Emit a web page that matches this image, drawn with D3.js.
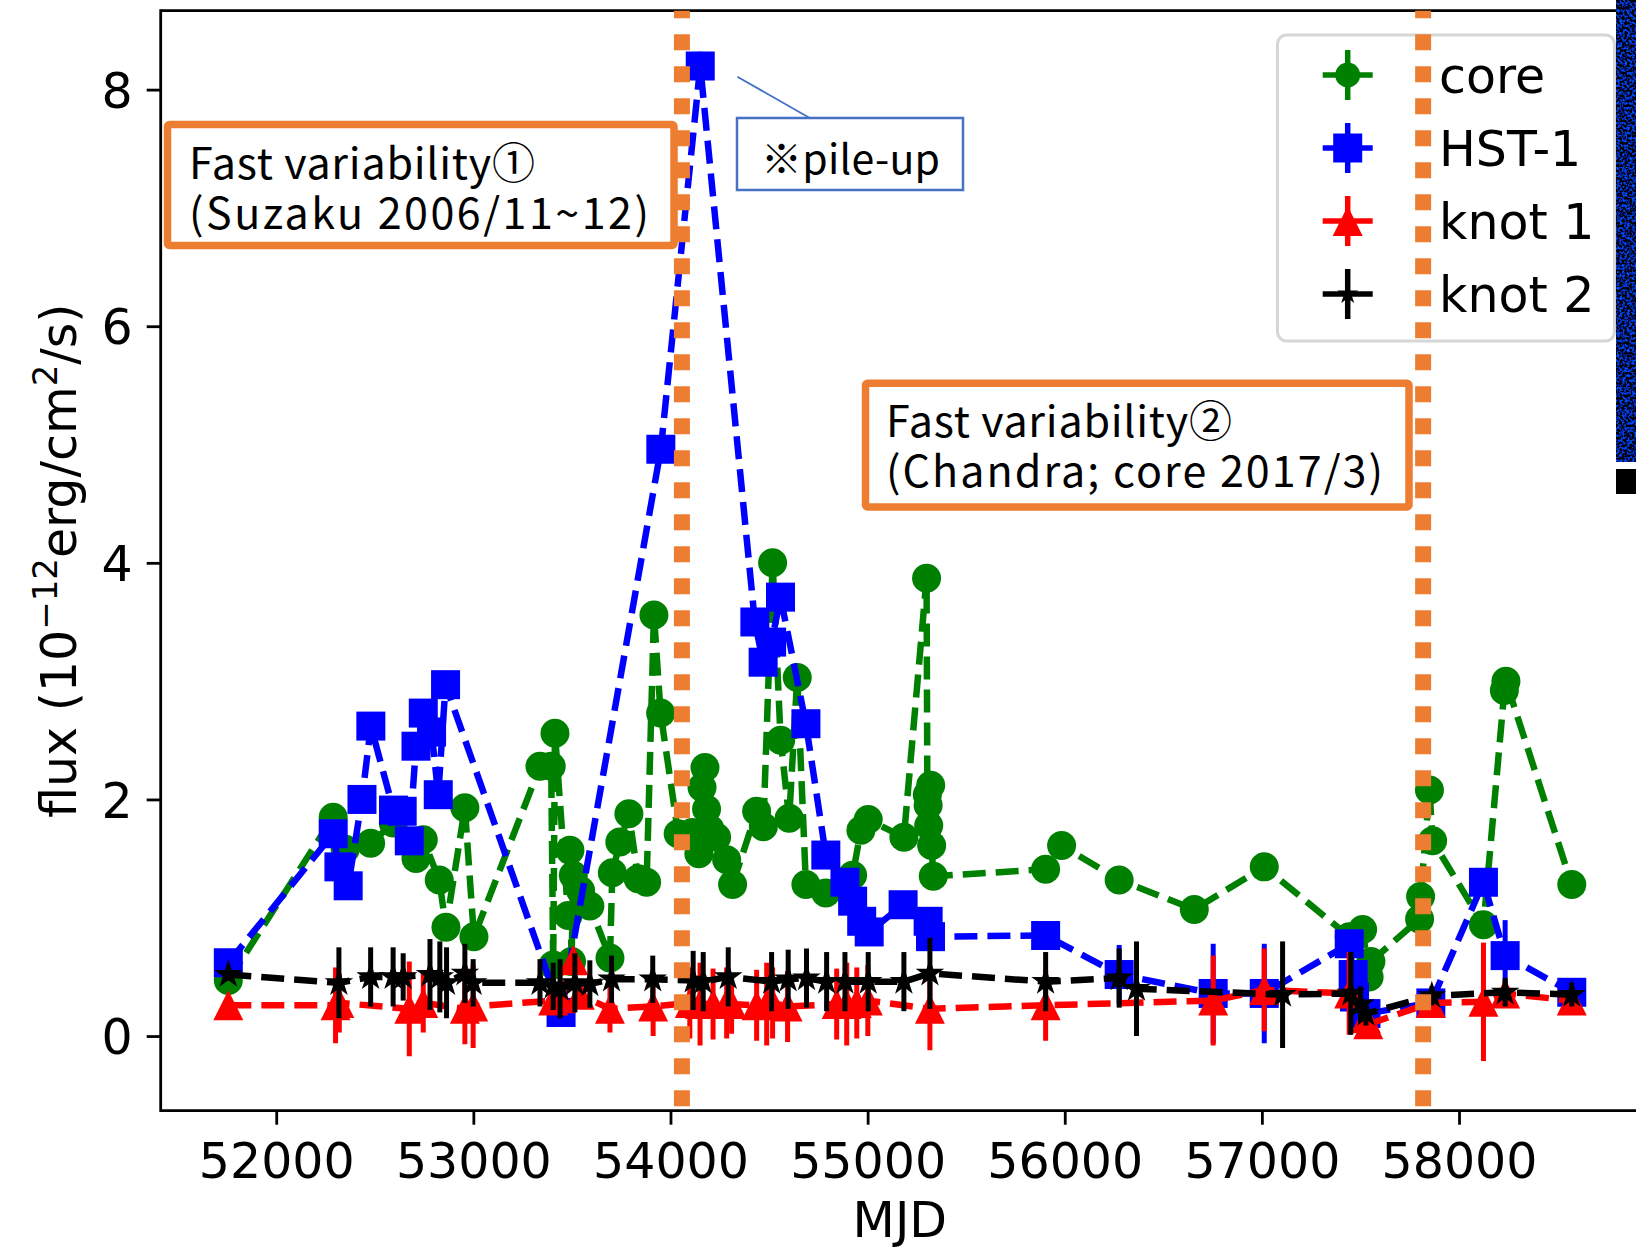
<!DOCTYPE html>
<html>
<head>
<meta charset="utf-8">
<script src="https://cdn.jsdelivr.net/npm/d3@7"></script>
<style>
  html, body { margin: 0; padding: 0; background: #ffffff; }
  svg { display: block; }
</style>
</head>
<body>
<svg id="chart" width="1636" height="1250"></svg>
<script>
// ---- light-curve data (MJD, flux in 1e-12 erg/cm^2/s, 1-sigma error) ----
const coreMJD  = [51757, 52289, 52350, 52479, 52594, 52709, 52746, 52827, 52861, 52957, 53003, 53338, 53395, 53405, 53414,
                  53481, 53490, 53498, 53507, 53544, 53591, 53693, 53705, 53743, 53789, 53836, 53879, 53916, 53950, 54039,
                  54110, 54144, 54160, 54175, 54183, 54200, 54234, 54285, 54315, 54437, 54471, 54518, 54559, 54602, 54643,
                  54687, 54788, 54924, 54966, 55003, 55184, 55299, 55303, 55307, 55310, 55320, 55325, 55333, 55903, 55984,
                  56276, 56657, 57012, 57443, 57511, 57544, 57553, 57800, 57805, 57850, 57866, 58124, 58230, 58238, 58572];
const coreFlux = [0.47, 1.85, 1.58, 1.63, 1.80, 1.50, 1.66, 1.32, 0.92, 1.93, 0.84, 2.28, 2.28, 0.60, 2.56,
                  1.02, 1.57, 0.63, 1.36, 1.23, 1.10, 0.66, 1.38, 1.64, 1.88, 1.33, 1.30, 3.56, 2.73, 1.71,
                  1.72, 1.54, 2.10, 2.27, 1.92, 1.75, 1.68, 1.49, 1.28, 1.90, 1.77, 4.00, 2.50, 1.84, 3.03,
                  1.28, 1.21, 1.36, 1.74, 1.83, 1.68, 3.87, 2.04, 1.95, 1.78, 2.12, 1.61, 1.35, 1.41, 1.61,
                  1.32, 1.07, 1.43, 0.84, 0.90, 0.50, 0.63, 0.99, 1.18, 2.08, 1.65, 0.94, 2.92, 3.00, 1.28];
const coreErr  = [0.06, 0.07, 0.06, 0.06, 0.06, 0.06, 0.06, 0.06, 0.06, 0.07, 0.06, 0.07, 0.07, 0.06, 0.08,
                  0.06, 0.06, 0.06, 0.06, 0.06, 0.06, 0.06, 0.06, 0.06, 0.07, 0.06, 0.06, 0.09, 0.08, 0.06,
                  0.06, 0.06, 0.07, 0.07, 0.06, 0.06, 0.06, 0.06, 0.06, 0.06, 0.06, 0.09, 0.07, 0.06, 0.08,
                  0.06, 0.06, 0.06, 0.06, 0.06, 0.06, 0.09, 0.07, 0.07, 0.06, 0.07, 0.06, 0.06, 0.06, 0.06,
                  0.06, 0.08, 0.06, 0.08, 0.08, 0.08, 0.08, 0.07, 0.07, 0.08, 0.07, 0.08, 0.09, 0.09, 0.07];

const hstMJD  = [51757, 52289, 52318, 52365, 52435, 52480, 52595, 52639, 52675, 52709, 52746, 52788, 52822, 52859,
                 53445, 53951, 54151, 54428, 54470, 54513, 54558, 54687, 54788, 54885, 54924, 54970, 55008, 55180,
                 55307, 55319, 55903, 56276, 56753, 57012, 57443, 57463, 57470, 57528, 57857, 58124, 58234, 58572];
const hstFlux = [0.62, 1.71, 1.43, 1.27, 2.00, 2.62, 1.91, 1.90, 1.65, 2.45, 2.73, 2.57, 2.04, 2.97,
                 0.20, 4.96, 8.20, 3.50, 3.16, 3.33, 3.71, 2.64, 1.53, 1.30, 1.14, 0.97, 0.88, 1.11,
                 0.97, 0.84, 0.85, 0.52, 0.36, 0.36, 0.78, 0.52, 0.33, 0.19, 0.28, 1.30, 0.68, 0.37];
const hstErr  = [0.05, 0.06, 0.06, 0.06, 0.07, 0.08, 0.07, 0.07, 0.07, 0.08, 0.08, 0.08, 0.07, 0.09,
                 0.08, 0.10, 0.12, 0.09, 0.09, 0.09, 0.10, 0.09, 0.08, 0.08, 0.08, 0.07, 0.07, 0.08,
                 0.10, 0.10, 0.12, 0.25, 0.42, 0.42, 0.12, 0.12, 0.15, 0.15, 0.10, 0.12, 0.30, 0.12];

const knot1MJD  = [51757, 52301, 52320, 52675, 52746, 52957, 52999, 53405, 53445, 53507, 53540, 53693, 53912,
                   54098, 54150, 54216, 54285, 54310, 54437, 54488, 54518, 54594, 54843, 54894, 54945, 55001,
                   55316, 55903, 56753, 57012, 57443, 57528, 57540, 57857, 58124, 58234, 58572];
const knot1Flux = [0.26, 0.26, 0.28, 0.23, 0.28, 0.23, 0.25, 0.30, 0.32, 0.64, 0.35, 0.23, 0.25,
                   0.28, 0.27, 0.27, 0.28, 0.27, 0.26, 0.27, 0.28, 0.25, 0.27, 0.27, 0.28, 0.30,
                   0.23, 0.26, 0.30, 0.39, 0.36, 0.15, 0.10, 0.28, 0.29, 0.36, 0.30];
const knot1Err  = [0.05, 0.32, 0.25, 0.40, 0.25, 0.30, 0.35, 0.12, 0.15, 0.10, 0.12, 0.20, 0.25,
                   0.30, 0.35, 0.30, 0.30, 0.25, 0.30, 0.35, 0.30, 0.30, 0.30, 0.35, 0.30, 0.30,
                   0.35, 0.30, 0.38, 0.35, 0.35, 0.10, 0.10, 0.05, 0.50, 0.10, 0.05];

const knot2MJD  = [51757, 52318, 52479, 52593, 52644, 52780, 52830, 52864, 52957, 52999, 53338, 53405, 53440,
                   53515, 53591, 53701, 53910, 54115, 54166, 54293, 54513, 54597, 54690, 54792, 54885, 55003,
                   55184, 55316, 55903, 56276, 56364, 57105, 57451, 57500, 57528, 57862, 58234, 58572];
const knot2Flux = [0.52, 0.45, 0.50, 0.50, 0.50, 0.52, 0.50, 0.45, 0.53, 0.45, 0.45, 0.42, 0.40,
                   0.45, 0.44, 0.48, 0.48, 0.47, 0.46, 0.50, 0.46, 0.48, 0.49, 0.46, 0.46, 0.46,
                   0.46, 0.53, 0.46, 0.49, 0.40, 0.35, 0.36, 0.27, 0.19, 0.34, 0.37, 0.35];
const knot2Err  = [0.05, 0.30, 0.25, 0.25, 0.20, 0.30, 0.30, 0.30, 0.25, 0.20, 0.20, 0.20, 0.25,
                   0.25, 0.20, 0.20, 0.20, 0.25, 0.25, 0.25, 0.25, 0.25, 0.25, 0.25, 0.25, 0.25,
                   0.25, 0.30, 0.25, 0.25, 0.40, 0.45, 0.35, 0.15, 0.10, 0.08, 0.12, 0.10];

const seriesNames = ["core", "HST-1", "knot 1", "knot 2"];
const xTicks = [52000, 53000, 54000, 55000, 56000, 57000, 58000];
const yTicks = [0, 2, 4, 6, 8];

// epochs of the two fast-variability episodes (vertical markers)
const suzakuMJD = 54058;
const chandraMJD = 57818;

// ---- layout ----
const W = 1636, H = 1250;
const plotL = 160.7, plotR = 1639, plotT = 10.7, plotB = 1110.7;
const x = d3.scaleLinear().domain([51414, 58913]).range([plotL, plotR]);
const y = d3.scaleLinear().domain([-0.631, 8.667]).range([plotB, plotT]);

const FONT = "'DejaVu Sans', sans-serif";
const JFONT = "'Noto Sans CJK JP', 'Noto Sans', sans-serif";
const ORANGE = "#ED7D31";

const svg = d3.select("#chart");
svg.append("rect").attr("width", W).attr("height", H).attr("fill", "#ffffff");

const defs = svg.append("defs");
defs.append("clipPath").attr("id", "plotClip")
  .append("rect").attr("x", plotL).attr("y", plotT)
  .attr("width", plotR - plotL).attr("height", plotB - plotT);

const grain = defs.append("filter").attr("id", "grain")
  .attr("x", 0).attr("y", 0).attr("width", "100%").attr("height", "100%");
grain.append("feTurbulence").attr("type", "fractalNoise")
  .attr("baseFrequency", 0.4).attr("numOctaves", 2).attr("seed", 7);
grain.append("feColorMatrix").attr("type", "matrix")
  .attr("values", "0 0 0 0 0  0.3 0 0 0 -0.14  3.6 0 0 0 -1.6  0 0 0 0 1");

// ---- marker shapes ----
function starPath(r) {
  const ri = r * 0.381966;
  const pts = [];
  for (let i = 0; i < 10; i++) {
    const rad = i % 2 === 0 ? r : ri;
    const a = -Math.PI / 2 + i * Math.PI / 5;
    pts.push([rad * Math.cos(a), rad * Math.sin(a)]);
  }
  return "M" + pts.map(p => p[0].toFixed(2) + "," + p[1].toFixed(2)).join("L") + "Z";
}
function trianglePath(s) {
  const h = s / 2;
  return `M0,${-h}L${-h},${h}L${h},${h}Z`;
}
function squarePath(s) {
  const h = s / 2;
  return `M${-h},${-h}H${h}V${h}H${-h}Z`;
}
function circlePath(s) {
  const r = s / 2;
  return `M${r},0A${r},${r} 0 1,1 ${-r},0A${r},${r} 0 1,1 ${r},0Z`;
}

const series = [
  { name: seriesNames[0], mjd: coreMJD,  flux: coreFlux,  err: coreErr,  color: "#008000", shape: circlePath,   size: 29, legendSize: 25 },
  { name: seriesNames[1], mjd: hstMJD,   flux: hstFlux,   err: hstErr,   color: "#0000ff", shape: squarePath,   size: 29, legendSize: 29 },
  { name: seriesNames[2], mjd: knot1MJD, flux: knot1Flux, err: knot1Err, color: "#ff0000", shape: trianglePath, size: 30, legendSize: 30 },
  { name: seriesNames[3], mjd: knot2MJD, flux: knot2Flux, err: knot2Err, color: "#000000", shape: starPath,     size: 15, legendSize: 11 }
];

// ---- axes ----
const xAxis = d3.axisBottom(x).tickValues(xTicks).tickFormat(d3.format("d")).tickSize(14);
const gx = svg.append("g").attr("transform", `translate(0,${plotB})`).call(xAxis);
gx.select(".domain").remove();
gx.selectAll(".tick line").attr("stroke", "#000").attr("stroke-width", 2.8);
gx.selectAll(".tick text").attr("y", 67.3).attr("dy", null)
  .attr("font-family", FONT).attr("font-size", 49).attr("fill", "#000");

const yAxis = d3.axisLeft(y).tickValues(yTicks).tickFormat(d3.format("d")).tickSize(14);
const gy = svg.append("g").attr("transform", `translate(${plotL},0)`).call(yAxis);
gy.select(".domain").remove();
gy.selectAll(".tick line").attr("stroke", "#000").attr("stroke-width", 2.8);
gy.selectAll(".tick text").attr("x", -28).attr("dy", "0.36em")
  .attr("font-family", FONT).attr("font-size", 49).attr("fill", "#000");

// axis titles
svg.append("text").attr("x", (plotL + plotR) / 2).attr("y", 1237)
  .attr("text-anchor", "middle").attr("font-family", FONT).attr("font-size", 49)
  .text("MJD");

const ylab = svg.append("text")
  .attr("transform", `translate(76,${(plotT + plotB) / 2}) rotate(-90)`)
  .attr("text-anchor", "middle").attr("font-family", FONT).attr("font-size", 49);
ylab.append("tspan").text("flux (10");
ylab.append("tspan").attr("dy", -19).attr("font-size", 34).text("\u221212");
ylab.append("tspan").attr("dy", 19).text("erg/cm");
ylab.append("tspan").attr("dy", -19).attr("font-size", 34).text("2");
ylab.append("tspan").attr("dy", 19).text("/s)");

// ---- data ----
const dataLayer = svg.append("g").attr("clip-path", "url(#plotClip)");
series.forEach(s => {
  const pts = s.mjd.map((m, i) => ({ m, f: s.flux[i], e: s.err[i] }));
  const g = dataLayer.append("g");
  g.selectAll("line.err").data(pts).join("line")
    .attr("x1", d => x(d.m)).attr("x2", d => x(d.m))
    .attr("y1", d => y(d.f - d.e)).attr("y2", d => y(d.f + d.e))
    .attr("stroke", s.color).attr("stroke-width", 5);
  g.append("path").datum(pts)
    .attr("d", d3.line().x(d => x(d.m)).y(d => y(d.f)))
    .attr("fill", "none").attr("stroke", s.color).attr("stroke-width", 6.5)
    .attr("stroke-dasharray", "23,10");
  g.selectAll("path.mk").data(pts).join("path")
    .attr("transform", d => `translate(${x(d.m)},${y(d.f)})`)
    .attr("d", s.shape(s.size)).attr("fill", s.color);
});

// ---- spines ----
svg.append("line").attr("x1", plotL).attr("x2", plotL).attr("y1", plotT - 1.4).attr("y2", plotB + 1.4)
  .attr("stroke", "#000").attr("stroke-width", 2.8);
svg.append("line").attr("x1", plotL).attr("x2", plotR).attr("y1", plotB).attr("y2", plotB)
  .attr("stroke", "#000").attr("stroke-width", 2.8);
svg.append("line").attr("x1", plotL).attr("x2", plotR).attr("y1", plotT).attr("y2", plotT)
  .attr("stroke", "#000").attr("stroke-width", 2.8);

// ---- legend ----
const lg = svg.append("g");
lg.append("rect").attr("x", 1277.5).attr("y", 35).attr("width", 337).attr("height", 306).attr("rx", 9)
  .attr("fill", "#ffffff").attr("fill-opacity", 0.8).attr("stroke", "#d6d6d6").attr("stroke-width", 3);
series.forEach((s, i) => {
  const cy = 75 + i * 73;
  const cx = 1347.7;
  lg.append("line").attr("x1", cx - 25).attr("x2", cx + 25).attr("y1", cy).attr("y2", cy)
    .attr("stroke", s.color).attr("stroke-width", 5.5);
  lg.append("line").attr("x1", cx).attr("x2", cx).attr("y1", cy - 25).attr("y2", cy + 25)
    .attr("stroke", s.color).attr("stroke-width", 5.5);
  lg.append("path").attr("transform", `translate(${cx},${cy})`)
    .attr("d", s.shape(s.legendSize)).attr("fill", s.color);
  lg.append("text").attr("x", 1439).attr("y", cy + 17.5)
    .attr("font-family", FONT).attr("font-size", 49).attr("fill", "#000").text(s.name);
});

// ---- episode boxes (two-line captions as one text block) ----
function noteBox(bx, by, bw, bh, lines, widths, tx, ty) {
  const g = svg.append("g");
  g.append("rect").attr("x", bx).attr("y", by).attr("width", bw).attr("height", bh).attr("rx", 2)
    .attr("fill", "#ffffff").attr("stroke", ORANGE).attr("stroke-width", 7.5);
  const t = g.append("text").attr("x", tx).attr("y", ty)
    .attr("font-family", JFONT).attr("font-size", 43).attr("fill", "#000");
  lines.forEach((line, i) => {
    t.append("tspan").attr("x", tx).attr("dy", i === 0 ? 0 : 50)
      .attr("textLength", widths[i]).attr("lengthAdjust", "spacing").text(line);
  });
}
noteBox(167.5, 124.5, 506.5, 121, ["Fast variability\u2460", "(Suzaku 2006/11~12)"], [346, 460], 189, 178.5);
noteBox(865.5, 383.3, 543.5, 123.7, ["Fast variability\u2461", "(Chandra; core 2017/3)"], [346, 497], 886, 437);

// ---- vertical episode markers ----
[suzakuMJD, chandraMJD].forEach(m => {
  svg.append("line").attr("x1", x(m)).attr("x2", x(m)).attr("y1", 2.3).attr("y2", plotB)
    .attr("stroke", ORANGE).attr("stroke-width", 16).attr("stroke-dasharray", "16,16")
    .attr("clip-path", "url(#plotClip)");
});

// ---- pile-up callout ----
svg.append("line").attr("x1", 737.3).attr("y1", 76.7).attr("x2", 809.3).attr("y2", 117.7)
  .attr("stroke", "#4472C4").attr("stroke-width", 1.8);
svg.append("rect").attr("x", 737).attr("y", 118).attr("width", 226).attr("height", 72)
  .attr("fill", "#ffffff").attr("stroke", "#4472C4").attr("stroke-width", 2.5);
svg.append("text").attr("x", 761).attr("y", 174)
  .attr("font-family", JFONT).attr("font-size", 41).attr("fill", "#000")
  .attr("textLength", 179).attr("lengthAdjust", "spacing").text("\u203bpile-up");

// ---- image strip at the right edge ----
svg.append("rect").attr("x", 1616).attr("y", 0).attr("width", 20).attr("height", 462)
  .attr("filter", "url(#grain)");
svg.append("rect").attr("x", 1616).attr("y", 469).attr("width", 20).attr("height", 25).attr("fill", "#000");
</script>
</body>
</html>
